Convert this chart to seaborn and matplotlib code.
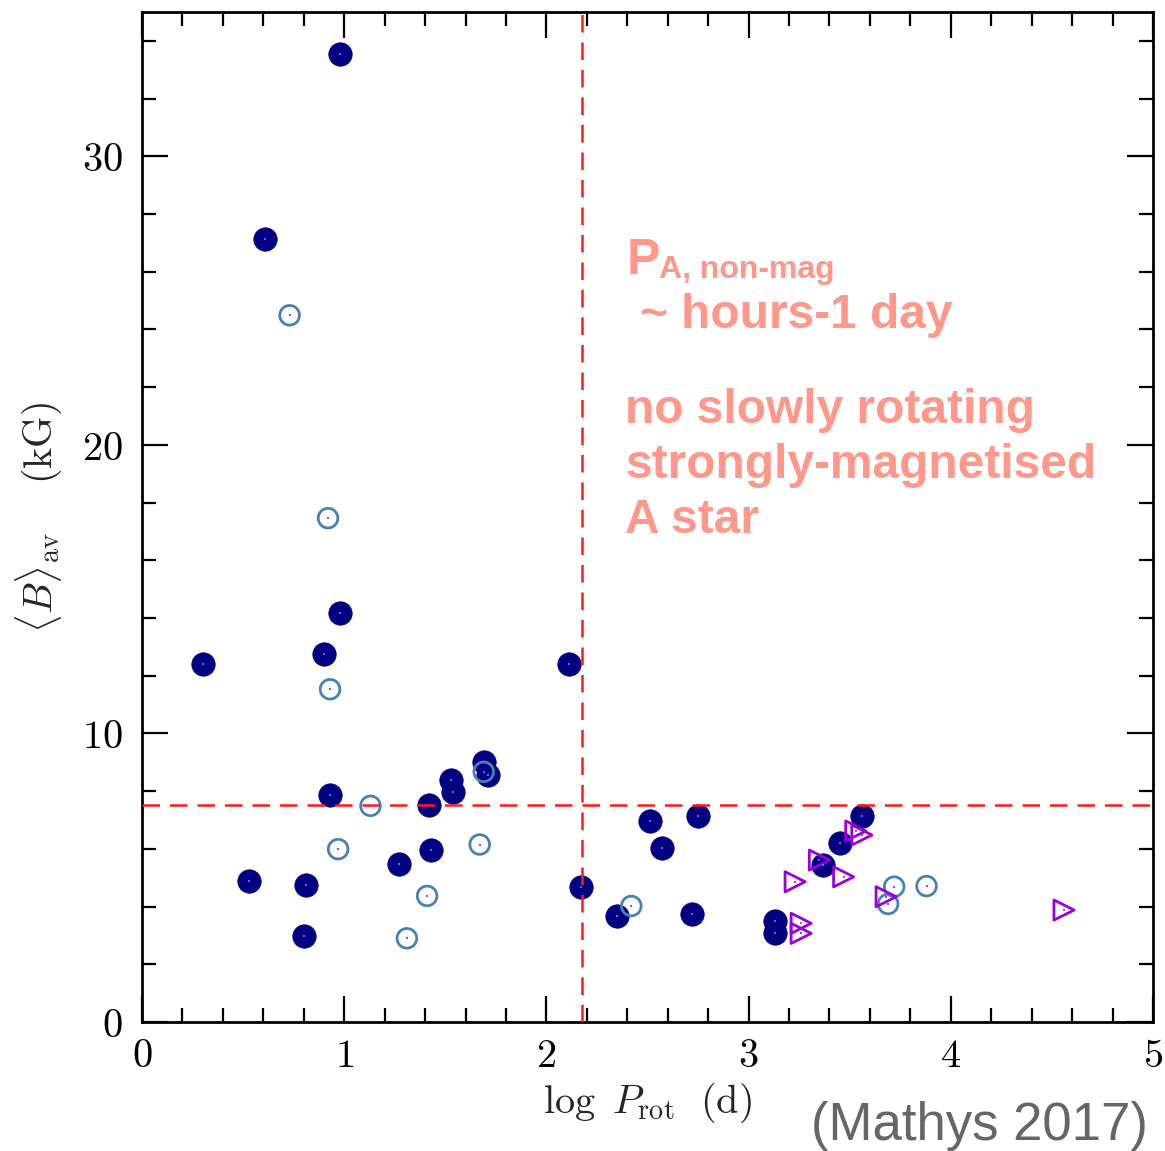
import numpy as np
import pandas as pd
import seaborn as sns
import matplotlib.pyplot as plt
from matplotlib.ticker import MultipleLocator, FuncFormatter

# log P_rot (d) and <B>_av (kG)
# stars with full field determinations (filled)
filled_logp = [0.98, 0.61, 0.30, 0.98, 0.90, 2.11, 0.93, 0.53, 0.81, 0.80,
               1.27, 1.43, 1.42, 1.53, 1.54, 1.69, 1.71, 2.17, 2.51, 2.75,
               2.57, 2.35, 2.72, 3.13, 3.13, 3.56, 3.45, 3.37]
filled_b = [33.56, 27.12, 12.40, 14.17, 12.75, 12.40, 7.86, 4.88, 4.75, 2.98,
            5.47, 5.96, 7.52, 8.38, 7.97, 9.01, 8.56, 4.67, 6.96, 7.15,
            6.02, 3.67, 3.73, 3.50, 3.07, 7.14, 6.19, 5.44]

# open circles
open_logp = [0.73, 0.92, 0.93, 1.13, 0.97, 1.67, 1.41, 1.31, 1.69, 2.42,
             3.72, 3.69, 3.88]
open_b = [24.49, 17.46, 11.53, 7.49, 5.99, 6.15, 4.37, 2.90, 8.67, 4.02,
          4.69, 4.09, 4.71]

# lower limits on period (triangles)
tri_logp = [3.23, 3.35, 3.47, 3.53, 3.56, 3.26, 3.26, 3.68, 4.56]
tri_b = [4.86, 5.61, 5.03, 6.62, 6.48, 3.42, 3.07, 4.34, 3.88]

p_cut = 2.176
b_cut = 7.52

df = pd.concat([
    pd.DataFrame({"logP": filled_logp, "B": filled_b, "kind": "filled"}),
    pd.DataFrame({"logP": open_logp, "B": open_b, "kind": "open"}),
    pd.DataFrame({"logP": tri_logp, "B": tri_b, "kind": "limit"}),
], ignore_index=True)

sns.set_style("ticks")
plt.rcParams["mathtext.fontset"] = "cm"
plt.rcParams["font.family"] = ["Liberation Sans", "DejaVu Sans"]

W, H = 1165, 1151
fig = plt.figure(figsize=(W / 100, H / 100), dpi=100)
ax = fig.add_axes([142 / W, 1 - 1022 / H, (1153 - 142) / W, (1022 - 12) / H])

sns.scatterplot(data=df[df.kind == "filled"], x="logP", y="B", ax=ax,
                marker="o", s=285, color="#000080", edgecolor="#000080",
                linewidth=0.5, zorder=3, legend=False)
sns.scatterplot(data=df[df.kind == "open"], x="logP", y="B", ax=ax,
                marker="o", s=200, color="#4682b4", facecolor="none",
                edgecolor="#4682b4", linewidth=2, zorder=3, legend=False)
sns.scatterplot(data=df[df.kind == "limit"], x="logP", y="B", ax=ax,
                marker=">", s=210, color="#9b00d6", facecolor="none",
                edgecolor="#9b00d6", linewidth=2, zorder=3, legend=False)
# tiny centre dots
sns.scatterplot(data=df, x="logP", y="B", ax=ax, marker="s", s=2,
                color="#6a5cff", linewidth=0, zorder=4, legend=False)

ax.axvline(p_cut, color="#ff1a1a", lw=1.8, ls=(0, (7, 4)), zorder=5)
ax.axhline(b_cut, color="#ff1a1a", lw=1.8, ls=(0, (7, 4)), zorder=5)

ax.set_xlim(0, 5)
ax.set_ylim(0, 35)
ax.xaxis.set_major_locator(MultipleLocator(1))
ax.xaxis.set_minor_locator(MultipleLocator(0.2))
ax.yaxis.set_major_locator(MultipleLocator(10))
ax.yaxis.set_minor_locator(MultipleLocator(2))
fmt = FuncFormatter(lambda v, p: f"${v:g}$")
ax.xaxis.set_major_formatter(fmt)
ax.yaxis.set_major_formatter(fmt)
ax.tick_params(which="both", direction="in", top=True, right=True,
               width=1.6, colors="black", labelsize=29)
ax.tick_params(which="major", length=19)
ax.tick_params(which="minor", length=10)
ax.tick_params(axis="x", which="major", pad=11)
ax.tick_params(axis="y", which="major", pad=14)
for sp in ax.spines.values():
    sp.set_linewidth(2)
    sp.set_color("black")

ax.set_xlabel(r"$\log\ P_{\rm rot}\ \ ({\rm d})$", fontsize=29, labelpad=4)
ax.set_ylabel(r"$\langle B\rangle_{\rm av}\ \ \ \ ({\rm kG})$", fontsize=29, labelpad=12)

salmon = "#ff978b"
fig.text(627 / W, 1 - 274 / H, "P", color=salmon, fontsize=36,
         fontweight="bold", va="baseline")
fig.text(659 / W, 1 - 278 / H, "A, non-mag", color=salmon, fontsize=23,
         fontweight="bold", va="baseline")
fig.text(640 / W, 1 - 328 / H, "~ hours-1 day", color=salmon, fontsize=34.5,
         fontweight="bold", va="baseline")
for i, line in enumerate(["no slowly rotating", "strongly-magnetised", "A star"]):
    fig.text(625 / W, 1 - (423 + 55 * i) / H, line, color=salmon, fontsize=34.5,
             fontweight="bold", va="baseline")

fig.text(1148 / W, 1 - 1140 / H, "(Mathys 2017)", color="#666666",
         fontsize=38, ha="right", va="baseline")

fig.savefig("out.png", dpi=100)
